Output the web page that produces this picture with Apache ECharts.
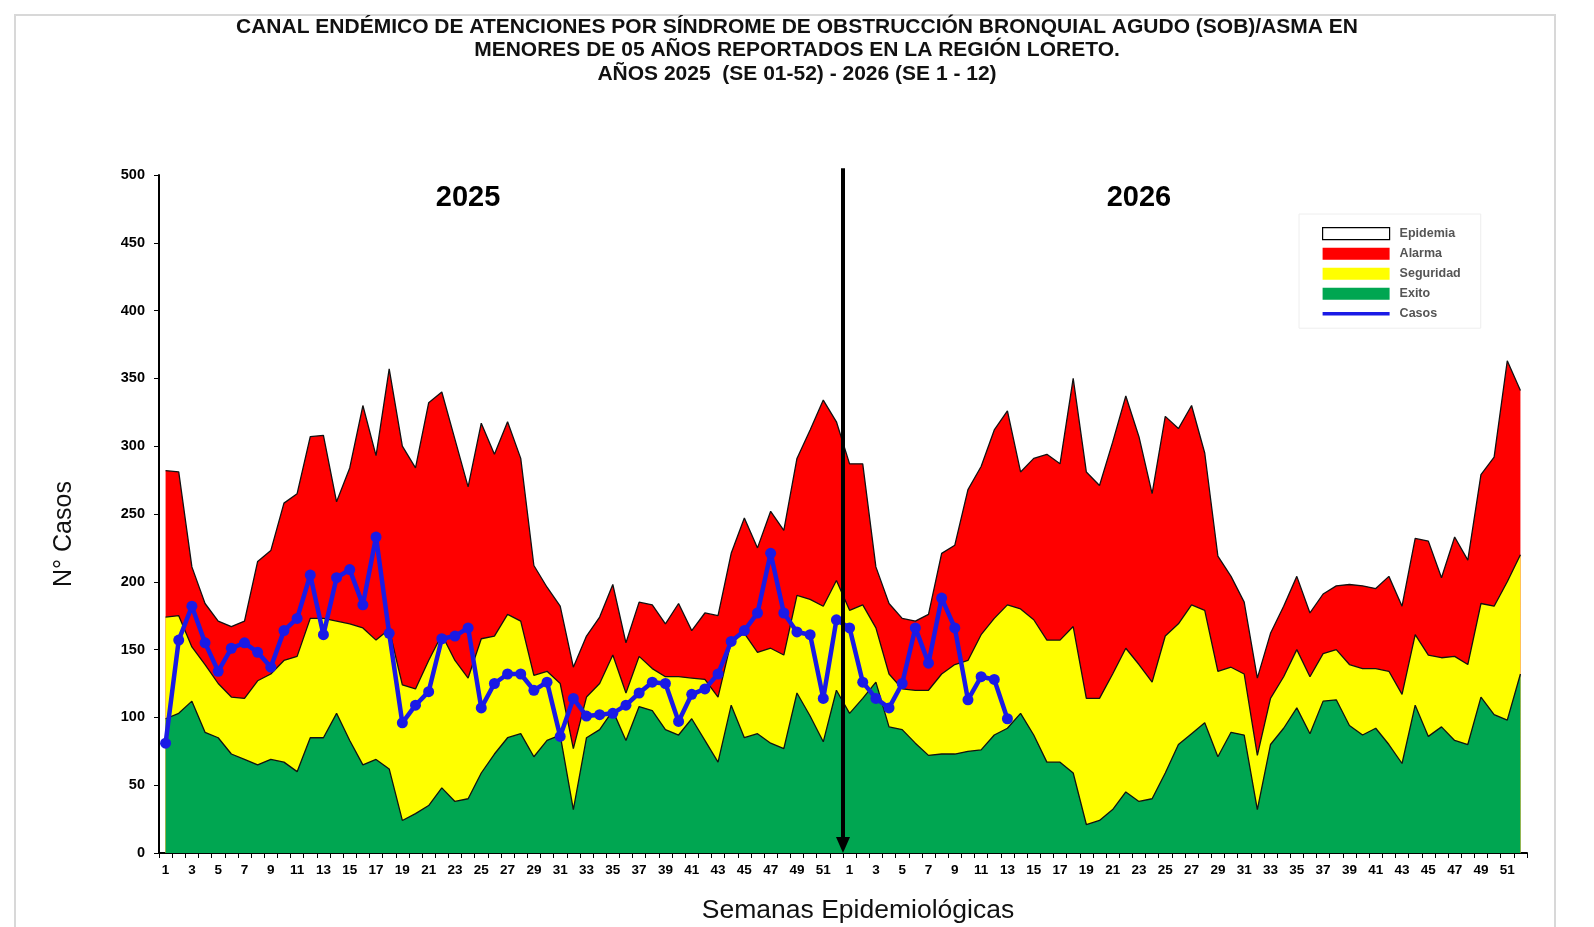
<!DOCTYPE html>
<html>
<head>
<meta charset="utf-8">
<script src="https://cdn.jsdelivr.net/npm/echarts@6/dist/echarts.min.js"></script>
<style>
html,body{margin:0;padding:0;background:#fff;}
#chart{width:1594px;height:927px;}
</style>
</head>
<body>
<div id="chart"></div>
<script>
// ---- Data ----
const weeks2025 = [1,2,3,4,5,6,7,8,9,10,11,12,13,14,15,16,17,18,19,20,21,22,23,24,25,26,27,28,29,30,31,32,33,34,35,36,37,38,39,40,41,42,43,44,45,46,47,48,49,50,51,52];
const weeks2026 = [1,2,3,4,5,6,7,8,9,10,11,12,13,14,15,16,17,18,19,20,21,22,23,24,25,26,27,28,29,30,31,32,33,34,35,36,37,38,39,40,41,42,43,44,45,46,47,48,49,50,51,52];

// Upper limits of each zone (cumulative level), 2025 weeks 1-52 then 2026 weeks 1-52
const exito = [
  99,103,112,89,85,73,69,65,69,67,60,85,85,103,83,65,69,62,24,29,35,48,38,40,59,73,85,88,71,83,87,32,85,91,105,83,108,105,91,87,99,83,67,109,85,88,81,77,118,101,82,120,
  103,114,126,93,91,81,72,73,73,75,76,87,92,103,87,67,67,59,21,24,32,45,38,40,59,80,88,96,71,89,87,32,80,92,107,88,112,113,94,87,92,80,66,109,86,93,83,80,115,102,98,132
];
const seguridad = [
  174,175,152,139,125,115,114,127,132,142,145,173,173,171,169,166,157,165,124,121,142,161,142,129,158,160,176,171,131,134,125,77,115,125,146,118,145,136,130,130,129,128,115,156,162,148,151,146,190,187,182,201,
  179,183,166,132,121,120,120,132,139,142,161,173,183,180,172,157,157,167,114,114,132,151,139,126,160,169,183,179,134,137,132,72,114,130,150,130,147,150,139,136,136,134,117,161,146,144,145,139,184,182,200,220
];
const alarma = [
  282,281,211,184,171,167,171,215,223,258,265,307,308,259,284,330,293,357,300,284,332,340,305,270,317,294,318,291,212,196,182,137,160,174,198,155,185,183,169,184,164,177,175,221,247,225,252,238,291,312,334,318,
  287,287,211,184,173,171,176,221,227,268,285,312,326,281,291,294,287,350,281,271,303,337,307,265,322,313,330,295,219,204,185,129,162,182,204,177,191,197,198,197,195,204,182,232,230,203,233,216,279,292,363,341
];
// Observed cases
const casos2025 = [81,157,182,155,134,151,155,148,137,164,173,205,161,203,209,183,233,162,96,109,119,158,160,166,107,125,132,132,120,126,86,114,101,102,103,109,118,126,125,97,117,121,132,156,164,177,221,177,163,161,114,172];
const casos2026 = [166,126,114,107,125,166,140,188,166,113,130,128,99];

const yMin = 0, yMax = 500, yStep = 50;
const yearLabels = ['2025', '2026'];

// ---- Build ----
const FONT = '"Liberation Sans", Arial, sans-serif';
const categories = weeks2025.map(w => '2025-' + w).concat(weeks2026.map(w => '2026-' + w));
const casos = casos2025.concat(casos2026);

const chart = echarts.init(document.getElementById('chart'), null, {renderer: 'canvas'});

function areaSeries(name, data, color) {
  return {
    name: name, type: 'line', data: data, symbol: 'none', silent: true,
    lineStyle: {color: '#111', width: 1.3},
    itemStyle: {color: color},
    areaStyle: {color: color, opacity: 1},
    animation: false
  };
}

const option = {
  backgroundColor: '#fff',
  animation: false,
  textStyle: {fontFamily: FONT},
  title: {
    text: 'CANAL ENDÉMICO DE ATENCIONES POR SÍNDROME DE OBSTRUCCIÓN BRONQUIAL AGUDO (SOB)/ASMA EN\nMENORES DE 05 AÑOS REPORTADOS EN LA REGIÓN LORETO.\nAÑOS 2025  (SE 01-52) - 2026 (SE 1 - 12)',
    left: 'center',
    top: 15,
    padding: [0, 0, 0, 20],
    textStyle: {fontFamily: FONT, fontSize: 21, fontWeight: 'bold', color: '#111', lineHeight: 23.7}
  },
  legend: {
    orient: 'vertical',
    left: 1299, top: 214,
    padding: [13, 20, 8, 23],
    itemWidth: 67, itemHeight: 12, itemGap: 7,
    borderColor: '#eeeeee', borderWidth: 1,
    selectedMode: false,
    textStyle: {fontFamily: FONT, fontSize: 12.5, fontWeight: 'bold', color: '#555', padding: [0, 0, 0, 5]},
    data: [
      {name: 'Epidemia', icon: 'rect', itemStyle: {color: '#ffffff', borderColor: '#000', borderWidth: 1.2}},
      {name: 'Alarma', icon: 'rect', itemStyle: {color: '#ff0000', borderWidth: 0}},
      {name: 'Seguridad', icon: 'rect', itemStyle: {color: '#ffff00', borderWidth: 0}},
      {name: 'Exito', icon: 'rect', itemStyle: {color: '#00a651', borderWidth: 0}},
      {name: 'Casos', icon: 'path://M0,0 L100,0 L100,5 L0,5 Z', itemStyle: {color: '#1a1ae6', borderWidth: 0}}
    ]
  },
  grid: {left: 159, right: 67, top: 175, bottom: 74, containLabel: false, outerBoundsMode: 'none'},
  xAxis: {
    type: 'category',
    data: categories,
    boundaryGap: true,
    axisLine: {show: true, lineStyle: {color: '#000', width: 2}},
    axisTick: {show: true, interval: 0, length: 5, lineStyle: {color: '#000', width: 1}},
    axisLabel: {
      interval: 1, margin: 10,
      formatter: v => v.split('-')[1],
      fontFamily: FONT, fontSize: 13.5, fontWeight: 'bold', color: '#000'
    },
    splitLine: {show: false},
    name: 'Semanas Epidemiológicas',
    nameLocation: 'middle', nameGap: 44,
    nameTextStyle: {fontFamily: FONT, fontSize: 26.5, color: '#111', padding: [0, 0, 0, 30]}
  },
  yAxis: {
    type: 'value',
    min: yMin, max: yMax, interval: yStep,
    axisLine: {show: true, lineStyle: {color: '#000', width: 2}},
    axisTick: {show: true, inside: false, length: 5, lineStyle: {color: '#000', width: 1}},
    splitLine: {show: false},
    axisLabel: {fontFamily: FONT, fontSize: 14.5, fontWeight: 'bold', color: '#000', margin: 14},
    name: 'N° Casos',
    nameLocation: 'middle', nameGap: 82, nameRotate: 90,
    nameTextStyle: {fontFamily: FONT, fontSize: 25, color: '#111', padding: [0, 40, 0, 0]}
  },
  series: [
    {name: 'Epidemia', type: 'line', data: [], symbol: 'none', itemStyle: {color: '#fff'}, lineStyle: {width: 0}},
    areaSeries('Alarma', alarma, '#ff0000'),
    areaSeries('Seguridad', seguridad, '#ffff00'),
    areaSeries('Exito', exito, '#00a651'),
    {
      name: 'Casos', type: 'line', data: casos,
      symbol: 'circle', symbolSize: 11, showAllSymbol: true,
      lineStyle: {color: '#1a1ae6', width: 4.5},
      itemStyle: {color: '#1a1ae6'},
      z: 5, animation: false
    }
  ]
};
chart.setOption(option);

// ---- Annotations positioned through the axes ----
const xa = chart.convertToPixel({xAxisIndex: 0}, weeks2025.length - 1);
const xb = chart.convertToPixel({xAxisIndex: 0}, weeks2025.length);
const xArrow = (xa + xb) / 2;
const yBase = chart.convertToPixel({yAxisIndex: 0}, yMin);
const yTopArrow = chart.convertToPixel({yAxisIndex: 0}, 505);
const yYear = chart.convertToPixel({yAxisIndex: 0}, 483);
const x2025 = chart.convertToPixel({xAxisIndex: 0}, 23);
const x2026 = chart.convertToPixel({xAxisIndex: 0}, 74);

chart.setOption({
  graphic: [
    {type: 'rect', silent: true, z: -1, shape: {x: 15, y: 15, width: 1540, height: 940}, style: {fill: 'none', stroke: '#d8d8d8', lineWidth: 2}},
    {type: 'text', silent: true, x: x2025, y: yYear, style: {text: yearLabels[0], font: 'bold 29px ' + FONT, fill: '#000', align: 'center', verticalAlign: 'middle'}, z: 10},
    {type: 'text', silent: true, x: x2026, y: yYear, style: {text: yearLabels[1], font: 'bold 29px ' + FONT, fill: '#000', align: 'center', verticalAlign: 'middle'}, z: 10},
    {type: 'line', silent: true, z: 20, shape: {x1: xArrow, y1: yTopArrow, x2: xArrow, y2: yBase - 12}, style: {stroke: '#000', lineWidth: 4}},
    {type: 'polygon', silent: true, z: 20, shape: {points: [[xArrow - 7, yBase - 16], [xArrow + 7, yBase - 16], [xArrow, yBase]]}, style: {fill: '#000'}}
  ]
});
</script>
</body>
</html>
